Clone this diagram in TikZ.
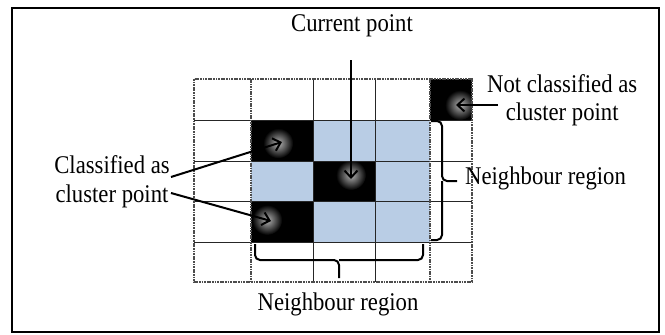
\documentclass[tikz,border=0pt]{standalone}
\usepackage{fontspec}
\setmainfont[FakeStretch=0.89]{Liberation Serif}
\usetikzlibrary{arrows.meta,calc}
\definecolor{nbblue}{RGB}{185,205,229}

\begin{document}
\begin{tikzpicture}[x=1pt,y=-1pt,
  lbl/.style={font=\fontsize{25.5}{28}\selectfont, inner sep=0pt, anchor=base},
  blackcell/.style={fill=black},
  bluecell/.style={fill=nbblue},
  gridline/.style={black!85, line width=0.9pt},
  dotline/.style={black!70, line width=1.1pt, dash pattern=on 1.6pt off 0.8pt},
  border/.style={black!70, line width=1.5pt, dash pattern=on 1.8pt off 0.8pt},
  pointer/.style={line width=2pt, -{Straight Barb[length=7pt,width=13pt,line width=2pt]}},
  glowspot/.style={inner color=black!30!white, outer color=black},
  bracket/.style={line width=2pt, rounded corners=5pt},
  frame/.style={line width=2pt}
]
\useasboundingbox (0,0) rectangle (665,335);

% cells of the grid
\fill[bluecell] (313,120) rectangle (430,161);
\fill[bluecell] (251,161) rectangle (313,201);
\fill[bluecell] (375,161) rectangle (430,201);
\fill[bluecell] (313,201) rectangle (430,242);
\fill[blackcell] (251,120) rectangle (313,161);
\fill[blackcell] (313,161) rectangle (375,201);
\fill[blackcell] (251,201) rectangle (313,242);
\fill[blackcell] (430,79) rectangle (472,120);

% arrow end points
\coordinate (curS) at (351,60);
\coordinate (curT) at (351,179);
\coordinate (ncS) at (498,105);
\coordinate (ncT) at (456,105);
\coordinate (cl1S) at (171,177);
\coordinate (cl1T) at (282,142);
\coordinate (cl2S) at (171,193);
\coordinate (cl2T) at (271,221);

% soft glow round the arrow heads, kept inside their black cells
\foreach \s/\t/\xa/\ya/\xb/\yb in {curS/curT/313/161/375/201,
    ncS/ncT/430/79/472/120, cl1S/cl1T/251/120/313/161,
    cl2S/cl2T/251/201/313/242} {
  \begin{scope}
    \clip (\xa,\ya) rectangle (\xb,\yb);
    \shade[glowspot] ($(\t)!4pt!(\s)$) circle[radius=15pt];
  \end{scope}
}

% grid lines
\foreach \r in {120,161,201,242} \draw[gridline] (194,\r) -- (472,\r);
\foreach \c in {313,375} \draw[gridline] (\c,79) -- (\c,282);
\foreach \c in {251,430} \draw[dotline] (\c,79) -- (\c,282);
\draw[border] (194,79) rectangle (472,282);

% labels
\node[lbl] (cur) at (352,31) {Current point};
\node[lbl, anchor=base west] (nc1) at (487,92) {Not classified as};
\node[lbl] (nc2) at (nc1.base |- 0,120) {cluster point};
\node[lbl] (cl1) at (112,173) {Classified as};
\node[lbl] (cl2) at (112,202) {cluster point};
\node[lbl, anchor=base west] (nbr) at (465,184) {Neighbour region};
\node[lbl] (nbb) at (338,310) {Neighbour region};

% arrows
\draw[pointer] (curS) -- (curT);
\draw[pointer] (ncS) -- (ncT);
\draw[pointer] (cl1S) -- (cl1T);
\draw[pointer] (cl2S) -- (cl2T);

% braces marking the neighbour region
\coordinate (rbT) at (431,121);
\coordinate (rbB) at (431,240);
\coordinate (rbM) at (442,181);
\coordinate (rbE) at (457,181);
\draw[bracket] (rbT) -| (rbM) -- (rbE);
\draw[bracket] (rbB) -| (rbM);
\coordinate (bbL) at (255,244);
\coordinate (bbR) at (423,244);
\coordinate (bbM) at (339,260);
\coordinate (bbE) at (339,278);
\draw[bracket] (bbL) |- (bbM) -- (bbE);
\draw[bracket] (bbR) |- (bbM);

% outer frame
\draw[frame] (12,8) rectangle (659,332);
\end{tikzpicture}
\end{document}
